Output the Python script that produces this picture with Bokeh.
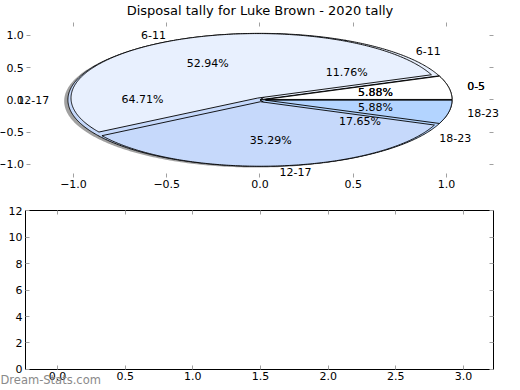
import numpy as np
from bokeh.plotting import figure
from bokeh.models import (Range1d, LinearAxis, FixedTicker, CustomJSTickFormatter,
                          Label, ColumnDataSource)
from bokeh.layouts import column
from bokeh.embed import file_html
from bokeh.resources import INLINE
from bokeh.core.properties import value

# ---------------- data ----------------
title_text = "Disposal tally for Luke Brown - 2020 tally"
categories = ["0-5", "6-11", "12-17", "18-23"]
tally_top = [1, 9, 6, 1]      # 5.88 / 52.94 / 35.29 / 5.88 %
tally_under = [1, 2, 11, 3]   # 5.88 / 11.76 / 64.71 / 17.65 %
slice_colors = ["#ffffff", "#e8f0fe", "#c6d9fb", "#b3d4ff"]
pie_xticks = [-1.0, -0.5, 0.0, 0.5, 1.0]
pie_yticks = [-1.0, -0.5, 0.0, 0.5, 1.0]
pie_xlim = (-1.25, 1.25)
pie_ylim = (-1.2, 1.2)
bar_xticks = [0.0, 0.5, 1.0, 1.5, 2.0, 2.5, 3.0]
bar_yticks = [0, 2, 4, 6, 8, 10, 12]
bar_xlim = (-0.2365, 3.222)
bar_ylim = (0, 12)
watermark = "Dream-Stats.com"

FONT = "DejaVu Sans"
TICK_GREY = "#a0a0a0"


def pie_geometry(counts, radius, explode, dx=0.0, dy=0.0):
    fr = np.asarray(counts, dtype=float) / float(sum(counts))
    ends = np.cumsum(fr) * 2 * np.pi
    starts = ends - fr * 2 * np.pi
    xs, ys = [], []
    lx, ly, la, px, py, pt = [], [], [], [], [], []
    for s, e, f in zip(starts, ends, fr):
        mid = 0.5 * (s + e)
        cx = explode * np.cos(mid) + dx
        cy = explode * np.sin(mid) + dy
        t = np.linspace(s, e, max(int((e - s) * 80), 6))
        xs.append([cx] + list(cx + radius * np.cos(t)) + [cx])
        ys.append([cy] + list(cy + radius * np.sin(t)) + [cy])
        # label positions (nominal radius 1, small explode offset)
        ox, oy = 0.03 * np.cos(mid), 0.03 * np.sin(mid)
        x_l = ox + 1.1 * np.cos(mid)
        lx.append(x_l)
        ly.append(oy + 1.1 * np.sin(mid))
        la.append("left" if x_l > 0 else "right")
        px.append(ox + 0.6 * np.cos(mid))
        py.append(oy + 0.6 * np.sin(mid))
        pt.append("%.2f%%" % (f * 100))
    return xs, ys, dict(x=lx, y=ly, text=list(categories), align=la), dict(x=px, y=py, text=pt)


def tick_formatter(decimals, blank=False):
    if blank:
        return CustomJSTickFormatter(code="return '';")
    return CustomJSTickFormatter(code="""
        const s = Math.abs(tick).toFixed(%d);
        return (tick < -1e-9 ? '\\u2212' : '') + s;
    """ % decimals)


def make_axis(ticks, decimals, loc_value, bounds, show_labels, line_color):
    ax = LinearAxis(fixed_location=loc_value, bounds=bounds)
    ax.ticker = FixedTicker(ticks=ticks)
    ax.formatter = tick_formatter(decimals, blank=not show_labels)
    ax.major_tick_in = 4
    ax.major_tick_out = 0
    ax.minor_tick_in = 0
    ax.minor_tick_out = 0
    ax.major_tick_line_color = TICK_GREY
    ax.axis_line_color = line_color
    ax.axis_line_width = 1
    ax.major_label_text_font = FONT
    ax.major_label_text_font_size = "11px"
    ax.major_label_text_color = "#000000"
    ax.major_label_standoff = 3
    return ax


def bare_figure(width, height, xr, yr):
    p = figure(width=width, height=height, output_backend="svg", toolbar_location=None,
               x_range=Range1d(*xr), y_range=Range1d(*yr),
               x_axis_type=None, y_axis_type=None)
    p.min_border = 0
    p.outline_line_color = None
    p.grid.visible = False
    p.background_fill_color = "white"
    p.border_fill_color = "white"
    return p


# ---------------- top: pie chart ----------------
# figure spans page x 0..520, y 0..202; 186.5 px per unit in x, 64.5 in y
p1 = bare_figure(520, 202, (-1.3914, 1.3968), (-1.592, 1.5395))

for loc, ticks, fixed, show in (("below", pie_xticks, pie_ylim[0], True),
                                ("left", pie_yticks, pie_xlim[0], True),
                                ("above", pie_xticks, pie_ylim[1], False),
                                ("right", pie_yticks, pie_xlim[1], False)):
    bnds = pie_xlim if loc in ("below", "above") else pie_ylim
    p1.add_layout(make_axis(ticks, 1, fixed, bnds, show, None), loc)

# underlying pie (with shadow)
sx, sy, _, _ = pie_geometry(tally_under, 1.03, 0.0, -0.02, -0.02)
p1.patches(sx, sy, fill_color="#444444", fill_alpha=0.5, line_color=None)
ux, uy, u_lab, u_pct = pie_geometry(tally_under, 1.03, 0.0)
p1.patches(ux, uy, fill_color=slice_colors, line_color="black", line_width=0.9)
# exploded pie on top
tx, ty, t_lab, t_pct = pie_geometry(tally_top, 1.0, 0.03)
p1.patches(tx, ty, fill_color=slice_colors, line_color="black", line_width=0.9)

for lab, pct in ((u_lab, u_pct), (t_lab, t_pct)):
    p1.text(x="x", y="y", text="text", text_align="align", text_baseline="middle",
            source=ColumnDataSource(lab), text_font=value(FONT),
            text_font_size="11px", text_color="black")
    p1.text(x="x", y="y", text="text", text_align="center", text_baseline="middle",
            source=ColumnDataSource(pct), text_font=value(FONT),
            text_font_size="11px", text_color="black")

p1.add_layout(Label(x=0.0, y=1.387, text=title_text, text_align="center",
                    text_baseline="middle", text_font=FONT, text_font_size="13px",
                    text_color="black"))

# ---------------- bottom: empty axes ----------------
# figure spans page x 0..520, y 202..390; 135.33 px per unit in x, 13.25 in y
p2 = bare_figure(520, 188, (-0.4212, 3.4213), (-1.585, 12.604))

for loc, ticks, dec, fixed, show in (("below", bar_xticks, 1, bar_ylim[0], True),
                                     ("left", bar_yticks, 0, bar_xlim[0], True),
                                     ("above", bar_xticks, 1, bar_ylim[1], False),
                                     ("right", bar_yticks, 0, bar_xlim[1], False)):
    bnds = bar_xlim if loc in ("below", "above") else bar_ylim
    p2.add_layout(make_axis(ticks, dec, fixed, bnds, show, "black"), loc)

p2.add_layout(Label(x=-0.4212, y=-0.83, text=watermark, text_align="left",
                    text_baseline="middle", text_font=FONT, text_font_size="11.5px",
                    text_color="#8a8a8a"))

layout = column(p1, p2, spacing=0)
open("out.html", "w").write(file_html(layout, INLINE))
